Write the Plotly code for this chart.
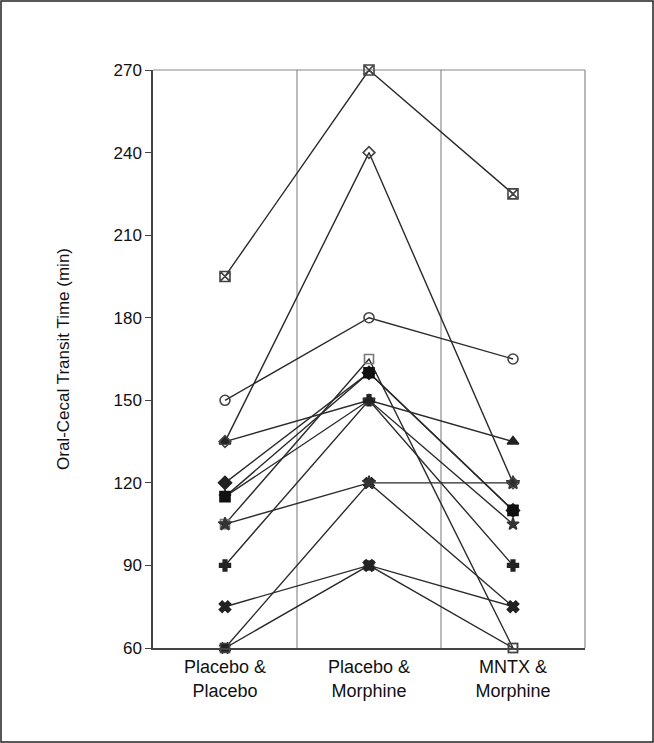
import plotly.graph_objects as go

# Oral-cecal transit time (min) per subject under each treatment
conditions = ["Placebo &<br>Placebo", "Placebo &<br>Morphine", "MNTX &<br>Morphine"]
cond_x = [0.5, 1.5, 2.5]

subj_01 = [195, 270, 225]
subj_02 = [150, 180, 165]
subj_03 = [135, 240, 120]
subj_04 = [135, 150, 135]
subj_05 = [105, 120, 120]
subj_06 = [60, 120, 75]
subj_07 = [75, 90, 75]
subj_08 = [60, 90, 60]
subj_09 = [90, 150, 90]
subj_10 = [120, 160, 110]
subj_11 = [115, 160, 110]
subj_12 = [105, 165, 60]
subj_13 = [115, 150, 105]

y_ticks = [60, 90, 120, 150, 180, 210, 240, 270]

subjects = [
    (subj_12, "square-open", 9, "#777"),
    (subj_06, "x", 9, "#222"),
    (subj_08, "square-open", 9, "#444"),
    (subj_07, "x", 10, "#222"),
    (subj_05, "star", 10, "#333"),
    (subj_09, "cross", 9, "#222"),
    (subj_13, "star", 9, "#333"),
    (subj_10, "diamond", 10, "#222"),
    (subj_11, "square", 10, "#111"),
    (subj_04, "triangle-up", 10, "#222"),
    (subj_03, "diamond-open", 9, "#444"),
    (subj_02, "circle-open", 10, "#444"),
    (subj_01, "square-x-open", 10, "#444"),
]

fig = go.Figure()
for vals, sym, size, col in subjects:
    fig.add_trace(go.Scatter(
        x=cond_x, y=vals, mode="lines+markers",
        line=dict(color="#2a2a2a", width=1.4),
        marker=dict(symbol=sym, size=size, color=col,
                    line=dict(color=col, width=1.6)),
        cliponaxis=False, showlegend=False,
    ))

# Dividers between treatment columns
for xb in [1, 2]:
    fig.add_shape(type="line", xref="x", yref="y", x0=xb, x1=xb, y0=60, y1=270,
                  line=dict(color="#777", width=1), layer="below")

# Lighter top and right edges of the plotting box
fig.add_shape(type="line", xref="paper", yref="paper", x0=0, x1=1, y0=1, y1=1,
              line=dict(color="#888", width=1.2), layer="below")
fig.add_shape(type="line", xref="paper", yref="paper", x0=1, x1=1, y0=0, y1=1,
              line=dict(color="#888", width=1.2), layer="below")

# Outer frame
fig.add_shape(type="rect", xref="paper", yref="paper",
              x0=-152/432, x1=652/432 - 152/432, y0=-94/578, y1=1 + 69/578,
              line=dict(color="#222", width=1.5))

font = dict(family="Liberation Sans, Arial, sans-serif", size=17, color="#111")
xfont = dict(family="Liberation Sans, Arial, sans-serif", size=18, color="#111")

fig.update_layout(
    width=654, height=743,
    margin=dict(l=153, r=69, t=70, b=95),
    paper_bgcolor="white", plot_bgcolor="white",
    font=font,
    xaxis=dict(
        range=[0, 3], tickvals=cond_x, ticktext=conditions,
        showgrid=False, zeroline=False, ticks="outside", ticklen=2,
        tickcolor="rgba(0,0,0,0)",
        showline=True, linecolor="#444", linewidth=1.5,
        tickfont=xfont,
    ),
    yaxis=dict(
        range=[60, 270], tickvals=y_ticks, showgrid=False, zeroline=False,
        ticks="outside", ticklen=6, tickcolor="#444",
        showline=True, linecolor="#444", linewidth=1.5,
        tickfont=font,
        title=dict(text="Oral-Cecal Transit Time (min)", font=font, standoff=40),
    ),
)

fig.write_html("out.html")
